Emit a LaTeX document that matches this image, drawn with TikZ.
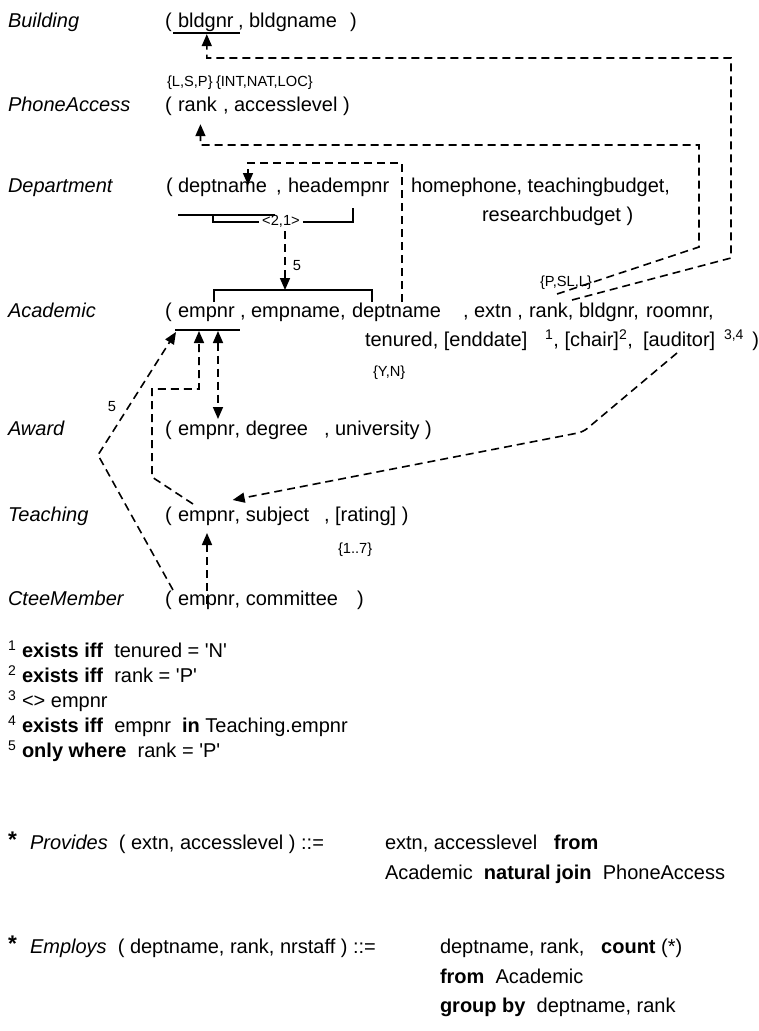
\documentclass[tikz,border=0pt]{standalone}
\usepackage{fontspec}
\setmainfont{Liberation Sans}
\usetikzlibrary{arrows.meta,calc}

\begin{document}
\begin{tikzpicture}[x=0.75pt,y=-0.75pt,
  every node/.style={inner sep=0pt, outer sep=0pt},
  txt/.style={anchor=base west, font=\fontsize{15}{18}\selectfont},
  tbl/.style={anchor=base west, font=\fontsize{15}{18}\selectfont\itshape},
  dom/.style={anchor=base west, font=\fontsize{11}{13}\selectfont},
  key/.style={line width=1.1pt},
  fk/.style={line width=1.2pt, dash pattern=on 6pt off 3.75pt},
  >={Triangle[width=7.5pt,length=9pt]}]

\useasboundingbox (0,0) rectangle (758,1031);

% ---------- Building ----------
\node[tbl] (tBuilding) at (8,28) {Building};
\node[txt] (bOpen)   at (165,28) {(};
\node[txt] (bBldgnr) at (178,28) {bldgnr};
\node[txt] (bName)   at (238,28) {, bldgname};
\node[txt] (bClose)  at (350,28) {)};
\draw[key] ($(bBldgnr.base west)+(-5,5)$) -- ($(bBldgnr.base east)+(6,5)$);

% ---------- PhoneAccess ----------
\node[tbl] (tPhone) at (8,112) {PhoneAccess};
\node[dom] (dRankDom)  at (167,87) {\{L,S,P\}};
\node[dom] (dLevelDom) at (216,87) {\{INT,NAT,LOC\}};
\node[txt] (pOpen) at (165,112) {(};
\node[txt] (pRank) at (178,112) {rank};
\node[txt] (pRest) at (223,112) {, accesslevel )};

% ---------- Department ----------
\node[tbl] (tDept) at (8,192) {Department};
\node[txt] (dOpen)     at (166,192) {(};
\node[txt] (dDeptname) at (178,192) {deptname};
\node[txt] (dComma)    at (276,192) {,};
\node[txt] (dHead)     at (288,192) {headempnr};
\node[txt] (dAttrs)    at (411,192) {homephone, teachingbudget,};
\node[txt] (dAttrs2)   at (482,221) {researchbudget )};
\draw[key] ($(dDeptname.base west)+(0,23)$) -- ($(dDeptname.base east)+(8,23)$);
\node[dom, anchor=center] (dCand) at (281,221) {<2,1>};
\draw[key] ($(dDeptname.base west)+(35,23)$) |- ($(dCand.west)+(-3,1)$);
\draw[key] ($(dCand.east)+(3,1)$) -| ($(dHead.base west)+(65,16)$);
\node[dom, anchor=center] (n5a) at (297,266) {5};

% ---------- Academic ----------
\node[tbl] (tAcad) at (8,317) {Academic};
\node[txt] (aOpen)     at (165,317) {(};
\node[txt] (aEmpnr)    at (178,317) {empnr};
\node[txt] (aName)     at (240,317) {, empname,};
\node[txt] (aDeptname) at (352,317) {deptname};
\node[txt] (aExtn)     at (463,317) {, extn ,};
\node[txt] (aRank)     at (529,317) {rank,};
\node[txt] (aBldgnr)   at (579,317) {bldgnr,};
\node[txt] (aRoom)     at (646,317) {roomnr,};
\node[txt] (aTen)      at (365,346) {tenured, [enddate]};
\node[txt] (aChair)    at (545,346) {\textsuperscript{1}, [chair]\textsuperscript{2},};
\node[txt] (aAuditor)  at (643,346) {[auditor]};
\node[txt] (aClose)    at (724,346) {\textsuperscript{3,4}\hspace{2pt} )};
\node[dom] (dTenDom)   at (373,376) {\{Y,N\}};
\node[dom] (dRankDom2) at (540,286) {\{P,SL,L\}};
\draw[key] ($(aEmpnr.base west)+(-3,13)$) -- ($(aEmpnr.base east)+(5,13)$);
\draw[key] ($(aEmpnr.base west)+(36,-15)$) |- ($(aDeptname.base west)+(20,-27)$)
           -- ($(aDeptname.base west)+(20,-15)$);
\coordinate (aFkTip) at ($(aEmpnr.base west)+(107,-27)$);

% ---------- Award ----------
\node[tbl] (tAward) at (8,435) {Award};
\node[txt] (wOpen)  at (165,435) {(};
\node[txt] (wEmpnr) at (178,435) {empnr};
\node[txt] (wDeg)   at (wEmpnr.base east) {, degree};
\node[txt] (wUni)   at (324,435) {, university )};

% ---------- Teaching ----------
\node[tbl] (tTeach) at (8,521) {Teaching};
\node[txt] (tOpen)   at (165,521) {(};
\node[txt] (tEmpnr)  at (178,521) {empnr};
\node[txt] (tSubj)   at (tEmpnr.base east) {, subject};
\node[txt] (tRating) at (324,521) {, [rating] )};
\node[dom] (dRatingDom) at (338,553) {\{1..7\}};

% ---------- CteeMember ----------
\node[tbl] (tCtee) at (8,605) {CteeMember};
\node[txt] (cOpen)  at (165,605) {(};
\node[txt] (cEmpnr) at (178,605) {empnr};
\node[txt] (cComm)  at (cEmpnr.base east) {, committee};
\node[txt] (cClose) at (357,605) {)};

% ---------- foreign keys ----------
% Academic.bldgnr -> Building.bldgnr
\draw[fk,->] ($(aBldgnr.base west)+(-7,-17)$) -- (731,258) -- (731,58)
             -| ($(bBldgnr.south)+(1,2)$);
% Academic.rank -> PhoneAccess.rank
\draw[fk,->] ($(aRank.base west)+(28,-23)$) -- (699,247) -- (699,145)
             -| ($(pRank.south)+(3,12)$);
% Academic.deptname -> Department.deptname
\draw[fk,->] ($(aDeptname.base west)+(50,-15)$) |- ($(dDeptname.base west)+(70,-29)$)
             -- ($(dDeptname.base west)+(70,-7)$);
% Department <2,1> -> Academic (empnr, empname, deptname)
\draw[fk,->] ($(dCand.south)+(4,4)$) -- (aFkTip);
% CteeMember.empnr -> Academic.empnr
\draw[fk,->] ($(cEmpnr.base west)+(-5,-15)$) -- (98,455) -- ($(aEmpnr.base west)+(-2,15)$);
\node[dom, anchor=center] (n5b) at (112,407) {5};
% Teaching.empnr -> Academic.empnr
\draw[fk,->] ($(tEmpnr.base west)+(15,-17)$) -- (152,477) |- ($(aEmpnr.base west)+(21,72)$)
             -- ($(aEmpnr.base west)+(21,14)$);
% Award.empnr <-> Academic.empnr
\draw[fk,<->] ($(aEmpnr.base west)+(40,14)$) -- ($(wEmpnr.base west)+(40,-16)$);
% Academic.auditor -> Teaching.empnr
\draw[fk,->,rounded corners=4pt] ($(aAuditor.base west)+(34,7)$) -- (583,432)
             -- ($(tEmpnr.base east)+(-2,-21)$);
% CteeMember.empnr -> Teaching.empnr
\draw[fk,->] ($(cEmpnr.base west)+(29,-1)$) -- ($(tEmpnr.base west)+(29,12)$);

% ---------- notes ----------
\node[txt] (fn1) at (8,657) {\textsuperscript{1} \textbf{exists iff}\ \ tenured = \textquotesingle N\textquotesingle};
\node[txt] (fn2) at (8,682) {\textsuperscript{2} \textbf{exists iff}\ \ rank = \textquotesingle P\textquotesingle};
\node[txt] (fn3) at (8,707) {\textsuperscript{3} <> empnr};
\node[txt] (fn4) at (8,732) {\textsuperscript{4} \textbf{exists iff}\ \ empnr\ \ \textbf{in} Teaching.empnr};
\node[txt] (fn5) at (8,757) {\textsuperscript{5} \textbf{only where}\ \ rank = \textquotesingle P\textquotesingle};

% ---------- derived relations ----------
\node[txt, font=\fontsize{17}{20}\selectfont\bfseries] (star1) at (8,847) {*};
\node[txt] (fProv)     at (30,849) {\textit{Provides}\ \ ( extn, accesslevel ) ::=};
\node[txt] (fProvDef)  at (385,849) {extn, accesslevel\ \ \ \textbf{from}};
\node[txt] (fProvDef2) at (385,879) {Academic\ \ \textbf{natural join}\ \ PhoneAccess};
\node[txt, font=\fontsize{17}{20}\selectfont\bfseries] (star2) at (8,951) {*};
\node[txt] (fEmp)      at (30,953) {\textit{Employs}\ \ ( deptname, rank, nrstaff ) ::=};
\node[txt] (fEmpDef)   at (440,953) {deptname, rank,\ \ \ \textbf{count} (*)};
\node[txt] (fEmpDef2)  at (440,983) {\textbf{from}\ \ Academic};
\node[txt] (fEmpDef3)  at (440,1012) {\textbf{group by}\ \ deptname, rank};
\end{tikzpicture}
\end{document}
